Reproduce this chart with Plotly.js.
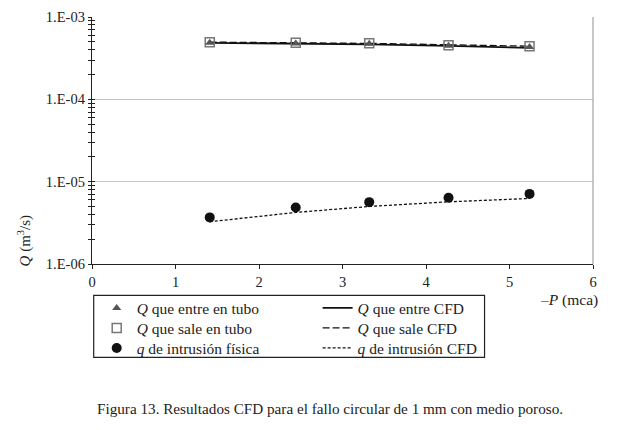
<!DOCTYPE html>
<html>
<head>
<meta charset="utf-8">
<script src="https://cdn.plot.ly/plotly-3.0.1.min.js"></script>
<style>
html,body{margin:0;padding:0;background:#fff;}
#chart{width:619px;height:430px;}
</style>
</head>
<body>
<div id="chart"></div>
<script>
// ---- data ----
const presion = [1.41, 2.44, 3.32, 4.27, 5.24];            // -P (mca)
const qEntraTubo = [4.85e-4, 4.78e-4, 4.72e-4, 4.47e-4, 4.32e-4];
const qSaleTubo  = [4.95e-4, 4.86e-4, 4.80e-4, 4.55e-4, 4.40e-4];
const qEntraCFD  = [4.85e-4, 4.76e-4, 4.66e-4, 4.46e-4, 4.22e-4];
const qSaleCFD   = [4.95e-4, 4.86e-4, 4.78e-4, 4.60e-4, 4.42e-4];
const qIntrusionFisica = [3.68e-6, 4.86e-6, 5.64e-6, 6.37e-6, 7.10e-6];
const qIntrusionCFD    = [3.26e-6, 4.23e-6, 5.00e-6, 5.69e-6, 6.25e-6];
const yTickVals = [1e-6, 1e-5, 1e-4, 1e-3];
const yTickText = ['1.E-06', '1.E-05', '1.E-04', '1.E-03'];
const xTickVals = [0, 1, 2, 3, 4, 5, 6];

const SERIF = 'Liberation Serif';
const minorVals = [];
[-6, -5, -4].forEach(e => { for (let k = 2; k <= 9; k++) minorVals.push(k * Math.pow(10, e)); });

const traces = [
  {x: presion, y: qIntrusionCFD, mode: 'lines', name: '<i>q</i> de intrusión CFD', legend: 'legend6',
   line: {color: '#111', width: 1.3, dash: '3px,2px'}},
  {x: presion, y: qSaleCFD, mode: 'lines', name: '<i>Q</i> que sale CFD', legend: 'legend4',
   line: {color: '#111', width: 1.3, dash: '7px,3px'}},
  {x: presion, y: qEntraCFD, mode: 'lines', name: '<i>Q</i> que entre CFD', legend: 'legend2',
   line: {color: '#111', width: 1.8}},
  {x: presion, y: qIntrusionFisica, mode: 'markers', name: '<i>q</i> de intrusión física', legend: 'legend5',
   marker: {symbol: 'circle', size: 10, color: '#111'}},
  {x: presion, y: qSaleTubo, mode: 'markers', name: '<i>Q</i> que sale en tubo', legend: 'legend3',
   marker: {symbol: 'square-open', size: 9, color: '#777', line: {width: 1.5}}},
  {x: presion, y: qEntraTubo, mode: 'markers', name: '<i>Q</i> que entre en tubo', legend: 'legend',
   marker: {symbol: 'triangle-up', size: 8, color: '#555'}},
  {x: [], y: [], yaxis: 'y2', showlegend: false, hoverinfo: 'skip'}
];

const W = 619, H = 430;
const L = 92.3, R = 25.5, T = 17.3, B = 165.7;
const pw = W - L - R, ph = H - T - B;
const px = v => (v - L) / pw;
const py = v => (H - B - v) / ph;

const yBase = {
  type: 'log', range: [-6, -3], tickmode: 'array', tickvals: yTickVals,
  showline: true, linecolor: '#222', linewidth: 1.2, zeroline: false,
  ticklen: 3, tickcolor: '#222', tickwidth: 1
};

function leg(xLeft, rowCenter) {
  return {
    x: px(xLeft), y: py(rowCenter - 16), xanchor: 'left', yanchor: 'top',
    bgcolor: 'rgba(0,0,0,0)', borderwidth: 0,
    font: {family: SERIF, size: 15.5, color: '#222'}, itemwidth: 30
  };
}

const layout = {
  width: W, height: H,
  margin: {l: L, r: R, t: T, b: B, pad: 0},
  paper_bgcolor: '#fff', plot_bgcolor: '#fff',
  font: {family: SERIF, size: 14, color: '#222'},
  showlegend: true,
  xaxis: {
    range: [0, 6], tickmode: 'array', tickvals: xTickVals,
    showgrid: false, zeroline: false, showline: true, linecolor: '#222', linewidth: 1.2,
    ticks: 'outside', ticklen: 4, tickcolor: '#222',
    tickfont: {family: SERIF, size: 14.5, color: '#222'}
  },
  yaxis: Object.assign({}, yBase, {
    ticktext: yTickText, ticks: 'outside',
    showgrid: true, gridcolor: '#c4c4c4', gridwidth: 1.4,
    tickfont: {family: SERIF, size: 14.5, color: '#222'},
    minor: {tickmode: 'array', tickvals: minorVals, ticks: 'outside', ticklen: 3, tickcolor: '#222', showgrid: false}
  }),
  yaxis2: Object.assign({}, yBase, {
    overlaying: 'y', side: 'left', anchor: 'x', ticks: 'inside', showticklabels: false, showgrid: false,
    minor: {tickmode: 'array', tickvals: minorVals, ticks: 'inside', ticklen: 3, tickcolor: '#222', showgrid: false}
  }),
  legend:  leg(97, 307.7),
  legend3: leg(97, 327.7),
  legend5: leg(97, 347.7),
  legend2: leg(318, 307.7),
  legend4: leg(318, 327.7),
  legend6: leg(318, 347.7),
  shapes: [
    {type: 'line', xref: 'paper', yref: 'paper', x0: 1, x1: 1, y0: 0, y1: 1,
     line: {color: '#b0b0b0', width: 1.4}},
    {type: 'rect', xref: 'paper', yref: 'paper', x0: px(94), x1: px(485), y0: py(295.7), y1: py(357.7),
     line: {color: '#222', width: 1.2}, fillcolor: 'rgba(0,0,0,0)'}
  ],
  annotations: [
    {text: '<i>Q</i> (m<sup>3</sup>/s)', textangle: -90, xref: 'paper', yref: 'paper',
     x: px(25), y: py(241), xanchor: 'center', yanchor: 'middle', showarrow: false,
     font: {family: SERIF, size: 15, color: '#222'}},
    {text: '–<i>P</i> (mca)', xref: 'paper', yref: 'paper', x: px(569), y: py(300.7),
     xanchor: 'center', yanchor: 'middle', showarrow: false,
     font: {family: SERIF, size: 15.5, color: '#222'}},
    {text: 'Figura 13. Resultados CFD para el fallo circular de 1 mm con medio poroso.',
     xref: 'paper', yref: 'paper', x: px(95), y: py(409), xanchor: 'left', yanchor: 'middle',
     showarrow: false, font: {family: SERIF, size: 15.2, color: '#222'}}
  ]
};

Plotly.newPlot('chart', traces, layout, {displayModeBar: false, staticPlot: true});
</script>
</body>
</html>
